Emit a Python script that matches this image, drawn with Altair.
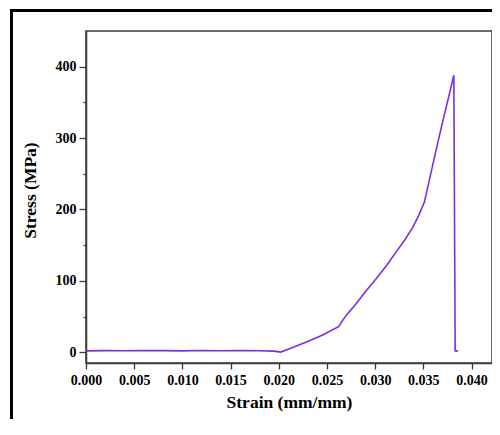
import altair as alt
import pandas as pd

strain = [0.0, 0.002, 0.004, 0.006, 0.008, 0.010, 0.012, 0.014, 0.016, 0.018,
          0.0195, 0.0202, 0.0215, 0.0230, 0.0245, 0.0262, 0.0270, 0.0279,
          0.0290, 0.0301, 0.0312, 0.0322, 0.0331, 0.0339, 0.0345, 0.0351,
          0.0358, 0.0365, 0.0372, 0.0377, 0.03816, 0.0383, 0.0386]
stress = [2.0, 2.4, 2.1, 2.6, 2.3, 2.0, 2.5, 2.2, 2.4, 2.1,
          1.6, 0.3, 7, 15, 24, 36, 52, 66,
          85, 103, 122, 141, 158, 175, 191, 210,
          252, 294, 334, 362, 388, 2, 2]

x_ticks = [0.0, 0.005, 0.010, 0.015, 0.020, 0.025, 0.030, 0.035, 0.040]
y_ticks = [0, 50, 100, 150, 200, 250, 300, 350, 400]

df = pd.DataFrame({"strain": strain, "stress": stress, "i": list(range(len(strain)))})

FONT = "Liberation Serif"
AXIS_COLOR = "#3a3a3a"

line = alt.Chart(df).mark_line(color="#7a2ee8", strokeWidth=1.6).encode(
    x=alt.X("strain:Q",
            scale=alt.Scale(domain=[0, 0.04212], nice=False, zero=False),
            axis=alt.Axis(values=x_ticks, format=".3f", title="Strain (mm/mm)",
                          tickSize=6, labelPadding=4, labelFlush=False, labelOverlap=False,
                          titleBaseline="middle", titleX=203, titleY=39)),
    y=alt.Y("stress:Q",
            scale=alt.Scale(domain=[-15, 450], nice=False, zero=False),
            axis=alt.Axis(values=y_ticks, title="Stress (MPa)",
                          labelExpr="datum.value % 100 === 0 ? datum.label : ''",
                          tickSize={"condition": {"test": "datum.value % 100 !== 0", "value": 3}, "value": 7},
                          labelPadding=3, labelFlush=False, labelOverlap=False,
                          titleBaseline="middle", titleX=-56, titleY=159)),
    order="i:Q",
)

frame_df = pd.DataFrame({"k": [0]})
frame_top = alt.Chart(frame_df).mark_rule(color="black", strokeWidth=3).encode(
    x=alt.value(-75.5), x2=alt.value(430), y=alt.value(-20.5)
)
frame_left = alt.Chart(frame_df).mark_rule(color="black", strokeWidth=3).encode(
    x=alt.value(-74.5), y=alt.value(-22), y2=alt.value(420)
)

chart = alt.layer(line, frame_top, frame_left).properties(
    width=406, height=332,
    autosize=alt.AutoSizeParams(type="none"),
    padding={"left": 78, "top": 23, "right": 0, "bottom": 56},
).configure_view(
    stroke=AXIS_COLOR, strokeWidth=1.5
).configure_axis(
    grid=False,
    domainColor=AXIS_COLOR, domainWidth=1.5,
    tickColor=AXIS_COLOR, tickWidth=1.3,
    labelFont=FONT, labelFontSize=14, labelFontWeight="bold", labelColor="black",
    titleFont=FONT, titleFontSize=17.5, titleFontWeight="bold", titleColor="black",
)

chart.save("out.html", embed_options={"renderer": "svg", "actions": False})
